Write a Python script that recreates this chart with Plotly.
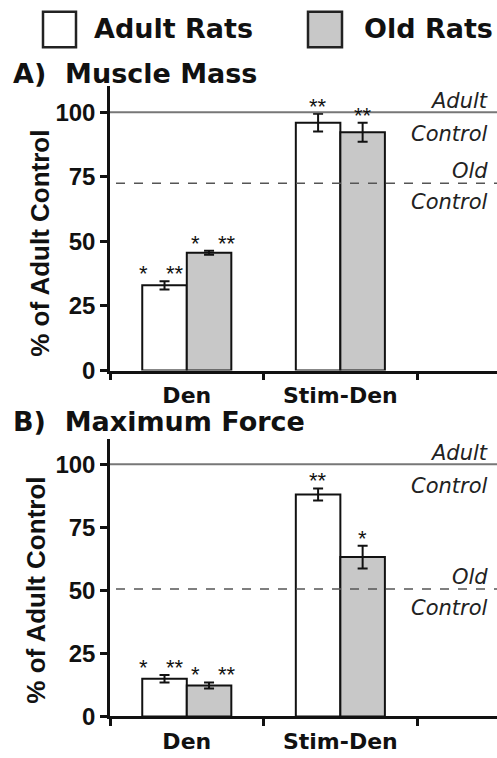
import plotly.graph_objects as go

# ---------------- data ----------------
categories = ["Den", "Stim-Den"]
groups = ["Adult Rats", "Old Rats"]

mass_adult = [33.0, 96.0]
mass_adult_err = [1.6, 3.4]
mass_old = [45.6, 92.3]
mass_old_err = [0.8, 3.7]

force_adult = [15.0, 88.0]
force_adult_err = [1.5, 2.4]
force_old = [12.3, 63.2]
force_old_err = [1.2, 4.5]

adult_control = [100.0, 100.0]   # panel A, panel B
old_control = [72.5, 50.5]       # panel A, panel B

sig_mass_adult = ["*   **", "**"]
sig_mass_old = ["*   **", "**"]
sig_force_adult = ["*   **", "**"]
sig_force_old = ["*   **", "*"]

y_ticks = [0, 25, 50, 75, 100]
panel_titles = ["A)  Muscle Mass", "B)  Maximum Force"]
y_title = "% of Adult Control"

# ---------------- style ----------------
W, H = 497, 758
BOLD = "DejaVu Sans"
ARIAL = "Liberation Sans"
fill_adult = "white"
fill_old = "#c8c8c8"
bargap = 0.42

fig = go.Figure()

panels = [
    dict(adult=mass_adult, aerr=mass_adult_err, old=mass_old, oerr=mass_old_err,
         sa=sig_mass_adult, so=sig_mass_old, xa="x", ya="y"),
    dict(adult=force_adult, aerr=force_adult_err, old=force_old, oerr=force_old_err,
         sa=sig_force_adult, so=sig_force_old, xa="x2", ya="y2"),
]

for p in panels:
    for name, vals, errs, fill in [(groups[0], p["adult"], p["aerr"], fill_adult),
                                   (groups[1], p["old"], p["oerr"], fill_old)]:
        fig.add_trace(go.Bar(
            x=categories, y=vals, name=name, xaxis=p["xa"], yaxis=p["ya"],
            marker=dict(color=fill, line=dict(color="#111111", width=2)),
            error_y=dict(type="data", array=errs, visible=True,
                         color="#111111", thickness=2, width=5),
            showlegend=False,
        ))

# y domains (paper) from pixel layout
def py(pix):
    return 1 - pix / H

dom_A = [py(377), py(88)]
dom_B = [py(729), py(446.7)]
xdom = [110 / W, 1.0]

axis_common = dict(showline=True, linecolor="#111111", linewidth=2.5,
                   showgrid=False, zeroline=False, mirror=False)

for xa, ya, dom in [("xaxis", "yaxis", dom_A), ("xaxis2", "yaxis2", dom_B)]:
    fig.layout[xa] = dict(
        axis_common, domain=xdom, range=[-0.5, 2.02], type="category",
        categoryorder="array", categoryarray=categories,
        tickson="boundaries", ticks="outside", ticklen=7, tickwidth=2.5,
        tickcolor="#111111", ticklabelstandoff=3,
        tickfont=dict(family=BOLD, size=22, color="#111111", weight="bold"),
        anchor=ya.replace("axis", ""), fixedrange=True,
    )
    fig.layout[ya] = dict(
        axis_common, domain=dom, range=[0, 110], tickvals=y_ticks,
        ticks="outside", ticklen=7, tickwidth=2.5, tickcolor="#111111",
        tickfont=dict(family=ARIAL, size=24, color="#111111", weight="bold"),
        anchor=xa.replace("axis", ""), fixedrange=True,
    )

annotations = []
shapes = []

# reference lines and their labels
for i, (ya, xa) in enumerate([("y", "x"), ("y2", "x2")]):
    shapes.append(dict(type="line", xref="paper", x0=xdom[0], x1=1.0,
                       yref=ya, y0=adult_control[i], y1=adult_control[i],
                       line=dict(color="#777777", width=2)))
    shapes.append(dict(type="line", xref="paper", x0=xdom[0] + 6 / W, x1=1.0,
                       yref=ya, y0=old_control[i], y1=old_control[i],
                       line=dict(color="#555555", width=1.5, dash="dash")))
    lab_font = dict(family="DejaVu Sans", size=21, color="#222222", style="italic")
    for txt, yv, anc, sh in [("Adult", adult_control[i], "bottom", -3),
                             ("Control", adult_control[i], "top", -8),
                             ("Old", old_control[i], "bottom", -2),
                             ("Control", old_control[i], "top", -5)]:
        annotations.append(dict(text=txt, xref="paper", x=490 / W, xanchor="right",
                                yref=ya, y=yv, yanchor=anc, yshift=sh,
                                showarrow=False, font=lab_font))

# significance markers
off = (1 - bargap) / 4
for p in panels:
    for j, cat in enumerate(categories):
        for vals, errs, sig, dx, xs in [(p["adult"], p["aerr"], p["sa"], -off, -4),
                                        (p["old"], p["oerr"], p["so"], off, 4)]:
            annotations.append(dict(
                text=sig[j], xref=p["xa"], x=j + dx, yref=p["ya"], y=vals[j] + errs[j],
                xanchor="center", yanchor="bottom", yshift=-7,
                xshift=xs if " " in sig[j] else 0, showarrow=False,
                font=dict(family=ARIAL, size=22, color="#111111")))

# panel titles
for t, yp in zip(panel_titles, [py(75), py(429)]):
    annotations.append(dict(text=t, xref="paper", yref="paper", x=12 / W, y=yp,
                            xanchor="left", yanchor="middle", showarrow=False,
                            borderpad=0,
                            font=dict(family=BOLD, size=27, color="#111111", weight="bold")))

# y-axis titles
for xp, yp in [(40 / W, py(248)), (36 / W, py(601))]:
    annotations.append(dict(text=y_title, xref="paper", yref="paper", x=xp, y=yp,
                            xanchor="center", yanchor="middle", textangle=-90,
                            showarrow=False,
                            font=dict(family=ARIAL, size=26, color="#111111", weight="bold")))

# legend (boxes + labels)
for (x0, x1, xt), name, fill in [((43, 76, 92), groups[0], fill_adult),
                                 ((308, 342, 362), groups[1], fill_old)]:
    shapes.append(dict(type="rect", xref="paper", yref="paper",
                       x0=x0 / W, x1=x1 / W, y0=py(48), y1=py(12),
                       fillcolor=fill, line=dict(color="#222222", width=2.5)))
    annotations.append(dict(text=name, xref="paper", yref="paper", x=xt / W, y=py(29),
                            xanchor="left", yanchor="middle", showarrow=False,
                            font=dict(family=BOLD, size=27, color="#111111", weight="bold")))

fig.update_layout(
    width=W, height=H, margin=dict(l=0, r=0, t=0, b=0),
    paper_bgcolor="white", plot_bgcolor="white",
    barmode="group", bargap=bargap, bargroupgap=0,
    showlegend=False, annotations=annotations, shapes=shapes,
)

fig.write_html("out.html", config={"displayModeBar": False},
               post_script="document.body.style.margin='0px';document.body.style.overflow='hidden';")
